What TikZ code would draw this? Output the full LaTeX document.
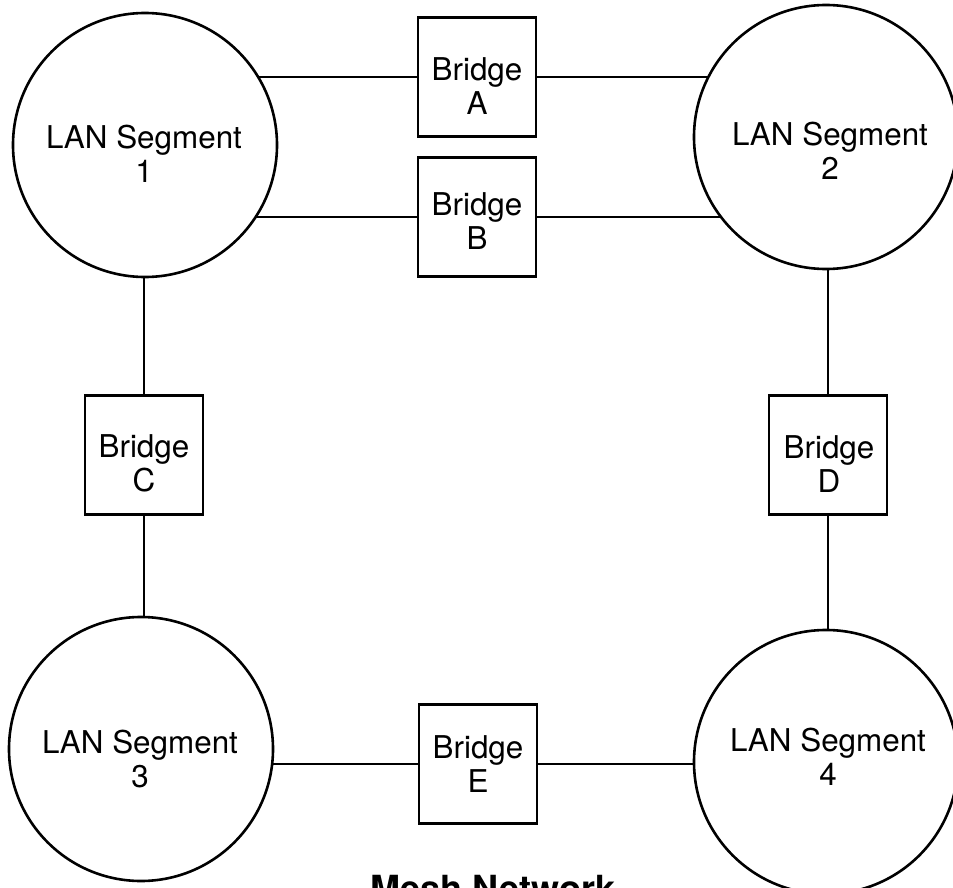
\documentclass[tikz,border=0pt]{standalone}
\usepackage{fontspec}
\setmainfont{TeX Gyre Heros}
\usetikzlibrary{backgrounds}
\begin{document}
\begin{tikzpicture}[x=0.5pt,y=-0.5pt,
  segment/.style={circle, draw, line width=1.3pt, fill=white,
    minimum size=132pt, inner sep=0pt},
  bridgebox/.style={rectangle, draw, line width=1.4pt, fill=white,
    minimum width=59pt, minimum height=59.5pt, inner sep=0pt},
  lbl/.style={align=center, inner sep=0pt,
    font=\fontsize{15.7}{17}\selectfont},
  link/.style={line width=1pt}]
\useasboundingbox (0,0) rectangle (953,888);

% LAN segments
\node[segment] (s1) at (145,145) {};
\node[segment] (s2) at (826,137) {};
\node[segment] (s3) at (141,749) {};
\node[segment] (s4) at (826,762) {};

% bridges
\node[bridgebox] (bA) at (477,77) {};
\node[bridgebox] (bB) at (477,217) {};
\node[bridgebox] (bC) at (144,455) {};
\node[bridgebox] (bD) at (828,455) {};
\node[bridgebox] (bE) at (478,764) {};

% labels
\node[lbl] (t1) at (144,154) {LAN Segment\\1};
\node[lbl] (t2) at (830,151) {LAN Segment\\2};
\node[lbl] (t3) at (140,759) {LAN Segment\\3};
\node[lbl] (t4) at (828,757) {LAN Segment\\4};
\node[lbl] (tA) at (477,86.5) {Bridge\\A};
\node[lbl] (tB) at (477,221.5) {Bridge\\B};
\node[lbl] (tC) at (144,463.5) {Bridge\\C};
\node[lbl] (tD) at (829,464) {Bridge\\D};
\node[lbl] (tE) at (478,764.5) {Bridge\\E};

% links, drawn beneath the filled shapes
\begin{scope}[on background layer]
  \draw[link] (bA.west) -- (bA.west -| s1.center);
  \draw[link] (bA.east) -- (bA.east -| s2.center);
  \draw[link] (bB.west) -- (bB.west -| s1.center);
  \draw[link] (bB.east) -- (bB.east -| s2.center);
  \draw[link] (bC.north) -- (bC.north |- s1.center);
  \draw[link] (bC.south) -- (bC.south |- s3.center);
  \draw[link] (bD.north) -- (bD.north |- s2.center);
  \draw[link] (bD.south) -- (bD.south |- s4.center);
  \draw[link] (bE.west) -- (bE.west -| s3.center);
  \draw[link] (bE.east) -- (bE.east -| s4.center);
\end{scope}

% caption
\node[anchor=base, inner sep=0pt, font=\bfseries\fontsize{18}{20}\selectfont]
  (title) at (493,901) {Mesh Network};
\end{tikzpicture}
\end{document}
